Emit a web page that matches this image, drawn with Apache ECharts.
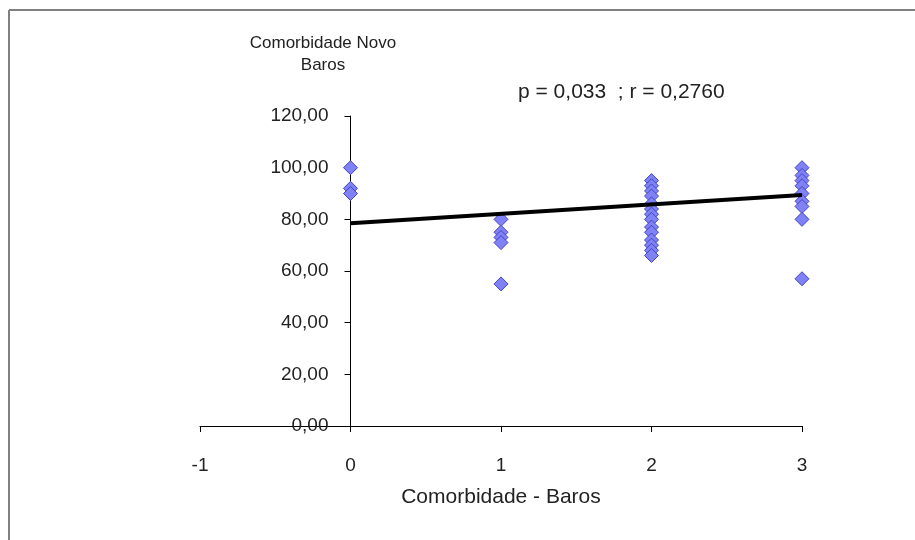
<!DOCTYPE html>
<html>
<head>
<meta charset="utf-8">
<script src="https://cdn.jsdelivr.net/npm/echarts@6/dist/echarts.min.js"></script>
<style>
  html, body { margin: 0; padding: 0; background: #fff; }
  #chart { width: 915px; height: 540px; }
</style>
</head>
<body>
<div id="chart"></div>
<script>
// Comorbidity scores: "Comorbidade - Baros" (x) vs "Comorbidade Novo Baros" (y)
const xGroups = [0, 1, 2, 3];
const yByGroup = [
  [100, 92, 90],
  [80, 75, 73, 71, 55],
  [95, 93, 91, 89, 86, 84, 82, 80, 77, 75, 72, 70, 68, 66],
  [100, 97, 95, 93, 90, 87, 85, 80, 57]
];
// Linear trend endpoints (x, y)
const trendX = [0, 3];
const trendY = [78.5, 89.4];
const xTicks = [-1, 0, 1, 2, 3];
const yTicks = [0, 20, 40, 60, 80, 100, 120];
const statText = 'p = 0,033  ; r = 0,2760';

const points = [];
xGroups.forEach((x, i) => yByGroup[i].forEach(y => points.push([x, y])));
const trend = trendX.map((x, i) => [x, trendY[i]]);

const FONT = '"Liberation Sans", Arial, sans-serif';
const TXT = '#222';

const GRID_LEFT = 200, GRID_WIDTH = 602;
// the vertical axis crosses the horizontal one at x = 0
const yAxisShift = -GRID_WIDTH * (0 - xTicks[0]) / (xTicks[xTicks.length - 1] - xTicks[0]);

const chart = echarts.init(document.getElementById('chart'), null, { renderer: 'canvas' });
chart.setOption({
  backgroundColor: '#fff',
  animation: false,
  title: [
    {
      text: 'Comorbidade Novo\nBaros',
      left: 318, top: 27, textAlign: 'center',
      textStyle: { fontFamily: FONT, fontSize: 17, fontWeight: 'normal', color: TXT, lineHeight: 22 }
    },
    {
      text: statText,
      left: 513, top: 77,
      textStyle: { fontFamily: FONT, fontSize: 21, fontWeight: 'normal', color: TXT }
    }
  ],
  grid: { left: GRID_LEFT, top: 116, width: GRID_WIDTH, height: 310, containLabel: false },
  xAxis: {
    type: 'value',
    min: xTicks[0], max: xTicks[xTicks.length - 1], interval: 1,
    name: 'Comorbidade - Baros',
    nameLocation: 'middle', nameGap: 61,
    nameTextStyle: { fontFamily: FONT, fontSize: 21, color: TXT },
    axisLine: { onZero: false, lineStyle: { color: '#000', width: 1 } },
    axisTick: { show: true, length: 6, lineStyle: { color: '#000' } },
    axisLabel: { margin: 30, fontFamily: FONT, fontSize: 19, color: TXT },
    splitLine: { show: false }
  },
  yAxis: {
    type: 'value',
    min: yTicks[0], max: yTicks[yTicks.length - 1], interval: 20,
    offset: yAxisShift,
    axisLine: { show: true, onZero: false, lineStyle: { color: '#000', width: 1 } },
    axisTick: { show: true, length: 6, lineStyle: { color: '#000' } },
    axisLabel: {
      margin: 22, fontFamily: FONT, fontSize: 19, color: TXT,
      formatter: v => v.toFixed(2).replace('.', ',')
    },
    splitLine: { show: false }
  },
  series: [
    {
      type: 'scatter',
      data: points,
      symbol: 'diamond',
      symbolSize: 14,
      itemStyle: { color: '#7f82f4', borderColor: '#4444c4', borderWidth: 1, opacity: 1 },
      z: 2
    },
    {
      type: 'line',
      data: trend,
      showSymbol: false,
      symbol: 'none',
      lineStyle: { color: '#000', width: 4 },
      z: 3
    }
  ],
  graphic: [
    { type: 'line', shape: { x1: 9, y1: 10, x2: 915, y2: 10 }, style: { stroke: '#808080', lineWidth: 2 } },
    { type: 'line', shape: { x1: 9, y1: 10, x2: 9, y2: 540 }, style: { stroke: '#808080', lineWidth: 2 } }
  ]
});
</script>
</body>
</html>
